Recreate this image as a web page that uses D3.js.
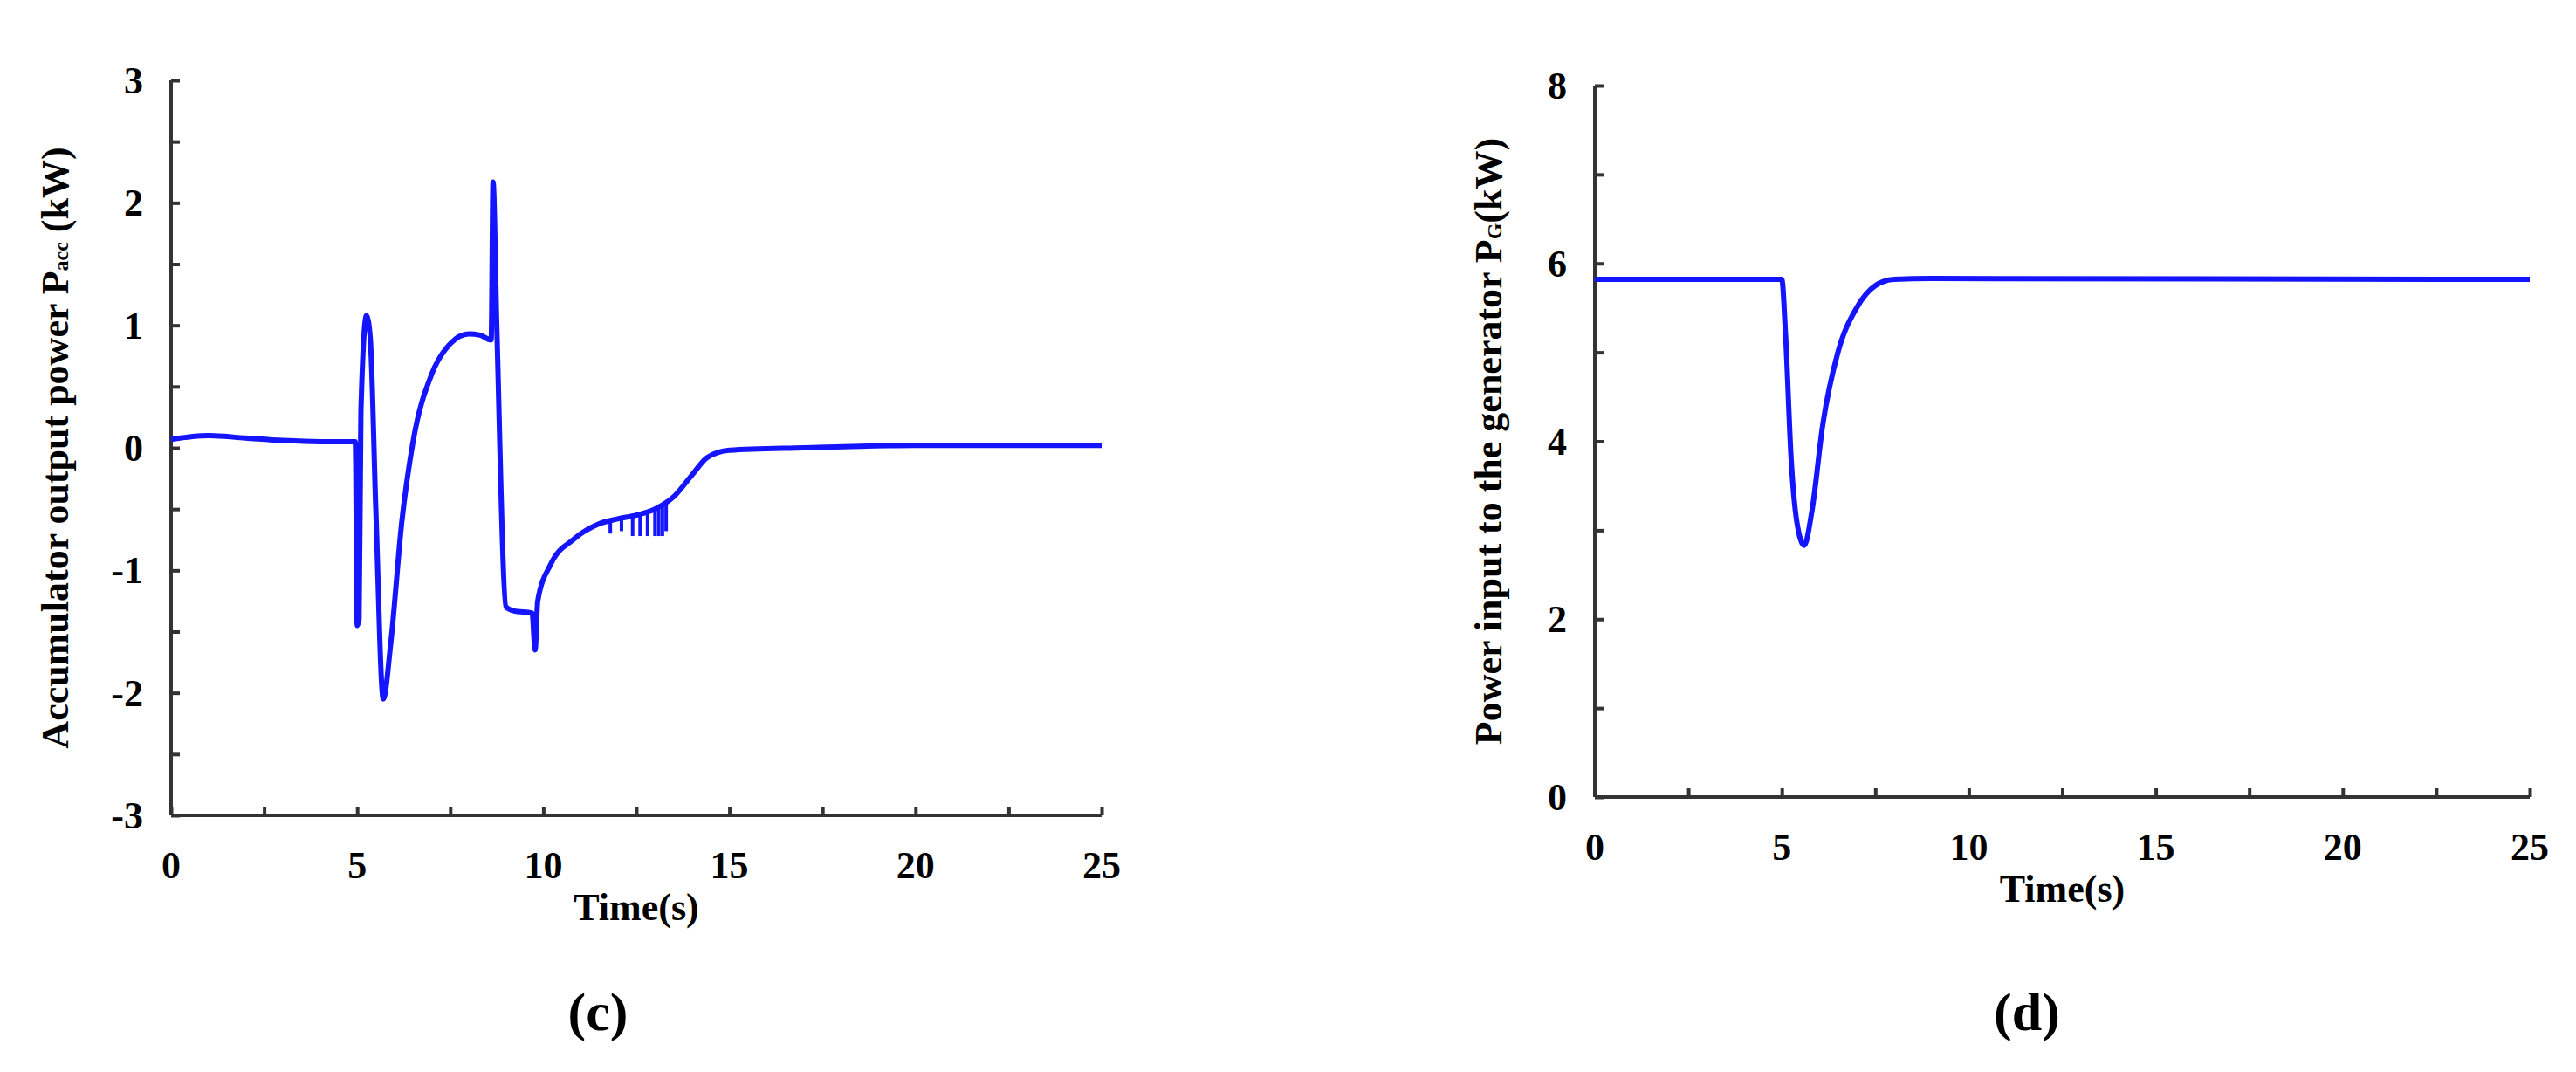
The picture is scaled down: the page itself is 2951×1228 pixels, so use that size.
<!DOCTYPE html>
<html><head><meta charset="utf-8">
<script src="https://cdn.jsdelivr.net/npm/d3@7"></script>
<style>body{margin:0;background:#fff}text{font-family:"Liberation Serif","Times New Roman",serif;font-weight:bold;fill:#000}</style>
</head><body><svg id="c" width="2951" height="1228"></svg>
<script>
// panel (c) accumulator output power
const accT = [0,1,2,3,4,4.95,5.0,5.05,5.1,5.25,5.35,5.5,5.7,5.9,6.2,6.5,7,7.5,8,8.3,8.6,8.65,8.75,9.0,9.2,9.7,9.78,9.85,10.2,10.8,11.5,12,12.5,13,13.5,14,14.4,15,17,20,25];
const accP = [0.07,0.1,0.08,0.06,0.05,0.05,-1.45,-1.4,0.3,1.08,0.9,-0.5,-2.05,-1.6,-0.6,0.05,0.6,0.85,0.93,0.92,0.88,2.17,1.0,-1.3,-1.33,-1.35,-1.65,-1.25,-0.95,-0.75,-0.62,-0.58,-0.55,-0.5,-0.4,-0.22,-0.08,-0.02,0.0,0.02,0.02];
// ripple spikes between 11.5 and 13.5 s
const ripT = [11.8,12.1,12.4,12.6,12.8,13.0,13.1,13.2,13.3];
const ripTop = [-0.6,-0.58,-0.56,-0.55,-0.53,-0.5,-0.48,-0.46,-0.44];
const ripLow = [-0.7,-0.68,-0.72,-0.72,-0.72,-0.72,-0.72,-0.72,-0.68];
// panel (d) generator input power
const genT = [0,5.0,5.1,5.25,5.4,5.6,5.8,6.1,6.5,7,7.5,8,9,25];
const genP = [5.82,5.82,5.2,3.8,3.1,2.83,3.2,4.2,5.0,5.5,5.75,5.82,5.83,5.82];

const xTicks = [0,5,10,15,20,25];
const svg = d3.select('#c');
const blue = '#1414ff';

function panel(o) {
	const x = d3.scaleLinear().domain([0,25]).range([o.x0,o.x1]);
	const y = d3.scaleLinear().domain(o.yd).range([o.y1,o.y0]);
	const g = svg.append('g');
	// minor ticks
	const xa = d3.axisTop(x).tickValues(d3.range(0,25.1,2.5)).tickSize(10).tickFormat('');
	const ya = d3.axisRight(y).tickValues(o.yMinor).tickSize(10).tickFormat('');
	g.append('g').attr('transform',`translate(0,${o.y1})`).call(xa);
	g.append('g').attr('transform',`translate(${o.x0},0)`).call(ya);
	g.selectAll('.domain').remove();
	g.selectAll('.tick line').attr('stroke','#333').attr('stroke-width',4);
	g.append('line').attr('x1',o.x0).attr('x2',o.x1).attr('y1',o.y1).attr('y2',o.y1).attr('stroke','#333').attr('stroke-width',4);
	g.append('line').attr('x1',o.x0).attr('x2',o.x0).attr('y1',o.y0).attr('y2',o.y1).attr('stroke','#333').attr('stroke-width',4);
	// tick labels
	g.selectAll('.xl').data(xTicks).join('text').attr('x',d=>x(d)).attr('y',o.y1+72)
		.attr('text-anchor','middle').attr('font-size',44).text(d=>d);
	g.selectAll('.yl').data(o.yTicks).join('text').attr('x',o.x0-32).attr('y',d=>y(d)+15)
		.attr('text-anchor','end').attr('font-size',44).text(d=>d);
	g.append('text').attr('x',(o.x0+o.x1)/2).attr('y',o.y1+120).attr('text-anchor','middle').attr('font-size',44).text('Time(s)');
	const yt = g.append('text').attr('transform',`translate(${o.tx},${(o.y0+o.y1)/2}) rotate(-90)`).attr('text-anchor','middle').attr('font-size',44);
	yt.append('tspan').text(o.t1);
	yt.append('tspan').attr('font-size',24).text(o.sub);
	yt.append('tspan').text(o.t2);
	svg.append('text').attr('x',o.lx).attr('y',1180).attr('text-anchor','middle').attr('font-size',62).attr('font-weight','normal')
		.html(`(<tspan font-weight="bold">${o.lab}</tspan>)`);
	return { x, y, g };
}

const c = panel({x0:196,x1:1262,y0:92,y1:934,yd:[-3,3],yTicks:d3.range(-3,3.1,1),yMinor:d3.range(-3,3.1,0.5),
	tx:78,t1:'Accumulator output power P',sub:'acc',t2:' (kW)',lx:685,lab:'c'});
const line = (x,y) => d3.line().x(d=>x(d[0])).y(d=>y(d[1])).curve(d3.curveMonotoneX);
c.g.append('path').datum(accT.map((t,i)=>[t,accP[i]])).attr('d',line(c.x,c.y))
	.attr('fill','none').attr('stroke',blue).attr('stroke-width',6);
c.g.selectAll('.rip').data(ripT).join('line').attr('x1',d=>c.x(d)).attr('x2',d=>c.x(d))
	.attr('y1',(d,i)=>c.y(ripTop[i])).attr('y2',(d,i)=>c.y(ripLow[i])).attr('stroke',blue).attr('stroke-width',4);

const dd = panel({x0:1827,x1:2898,y0:98,y1:913,yd:[0,8],yTicks:[0,2,4,6,8],yMinor:d3.range(0,8.1,1),
	tx:1720,t1:'Power input  to the generator P',sub:'G',t2:'(kW)',lx:2322,lab:'d'});
dd.g.append('path').datum(genT.map((t,i)=>[t,genP[i]])).attr('d',line(dd.x,dd.y))
	.attr('fill','none').attr('stroke',blue).attr('stroke-width',6);
</script></body></html>
